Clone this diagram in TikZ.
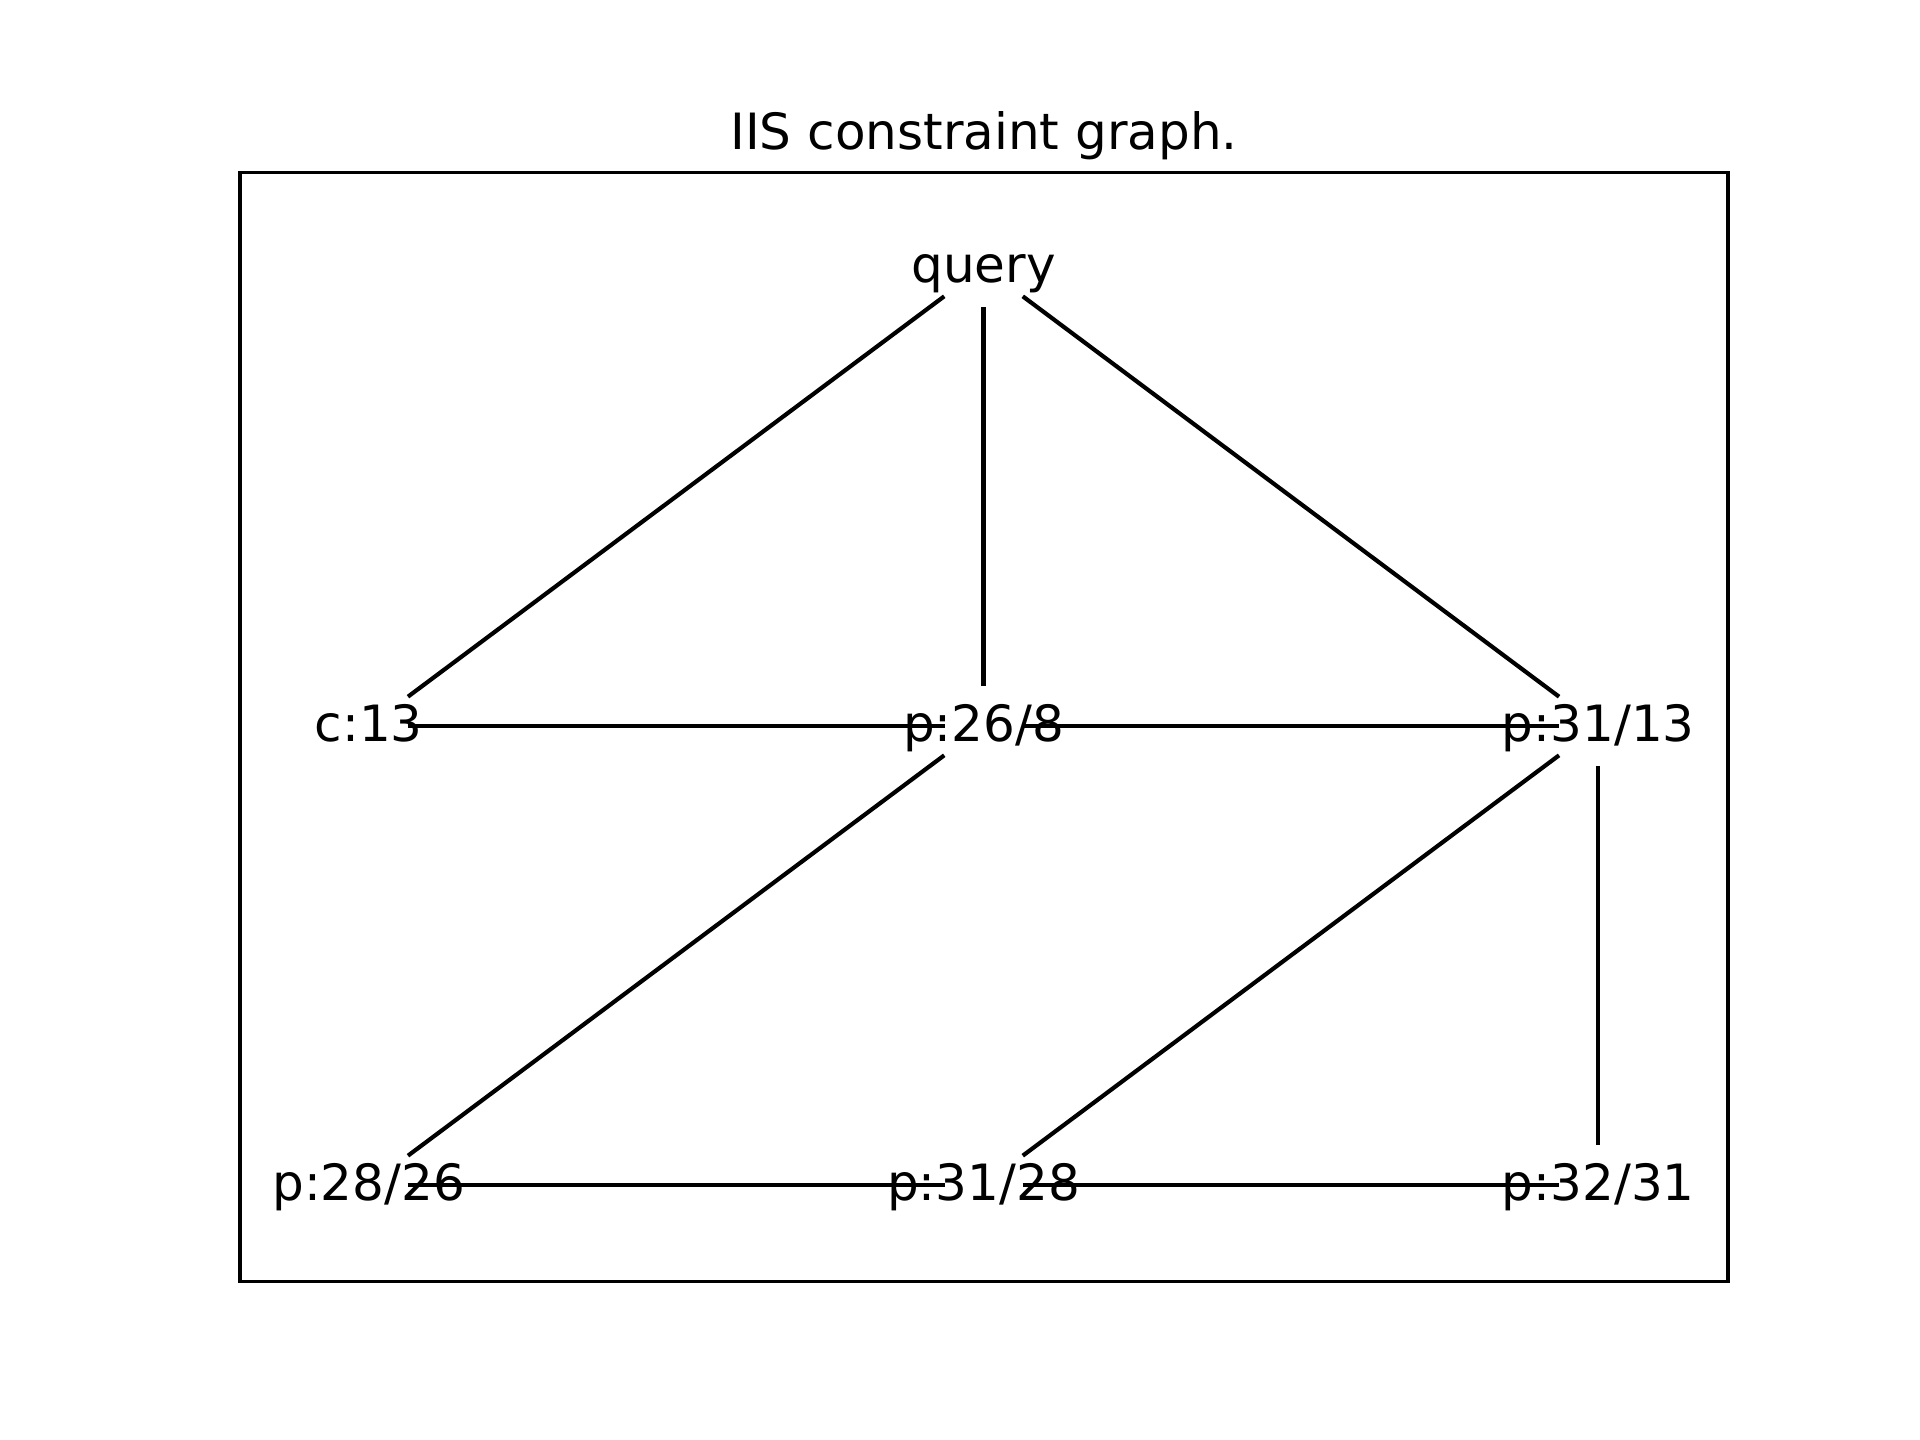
\documentclass[tikz,border=0pt]{standalone}
\usepackage{fontspec}
\setmainfont{DejaVu Sans}
\begin{document}
\begin{tikzpicture}[x=1pt,y=-1pt,
  lbl/.style={inner sep=0pt,anchor=base,yshift=-15pt,font=\fontsize{50}{60}\selectfont},
  edge/.style={draw=black,line width=4.17pt},
  hedge/.style={edge,shorten <=39pt,shorten >=39pt},
  vedge/.style={edge,shorten <=40pt,shorten >=40pt},
  dedge/.style={edge,shorten <=49pt,shorten >=49pt},
  frame/.style={draw=black,line width=3.33pt}]
\useasboundingbox (0,0) rectangle (1920,1440);
\fill[white] (0,0) rectangle (1920,1440);

% graph node centres
\coordinate (query) at (983.5,267);
\coordinate (c13)   at (368.7,726);
\coordinate (p268)  at (983.5,726);
\coordinate (p3113) at (1598.3,726);
\coordinate (p2826) at (368.7,1185);
\coordinate (p3128) at (983.5,1185);
\coordinate (p3231) at (1598.3,1185);

% axes frame and title
\draw[frame] (240,172.8) rectangle (1728,1281.6);
\node[anchor=base,inner sep=0pt,font=\fontsize{50}{60}\selectfont] (title) at (984,149) {IIS constraint graph.};

% edges
\draw[dedge] (query) -- (c13);
\draw[vedge] (query) -- (p268);
\draw[dedge] (query) -- (p3113);
\draw[hedge] (c13) -- (p268);
\draw[hedge] (p268) -- (p3113);
\draw[dedge] (p268) -- (p2826);
\draw[dedge] (p3113) -- (p3128);
\draw[vedge] (p3113) -- (p3231);
\draw[hedge] (p2826) -- (p3128);
\draw[hedge] (p3128) -- (p3231);

% labels
\node[lbl] (lquery) at (query) {query};
\node[lbl] (lc13)   at (c13)   {c:13};
\node[lbl] (lp268)  at (p268)  {p:26/8};
\node[lbl] (lp3113) at (p3113) {p:31/13};
\node[lbl] (lp2826) at (p2826) {p:28/26};
\node[lbl] (lp3128) at (p3128) {p:31/28};
\node[lbl] (lp3231) at (p3231) {p:32/31};
\end{tikzpicture}
\end{document}
